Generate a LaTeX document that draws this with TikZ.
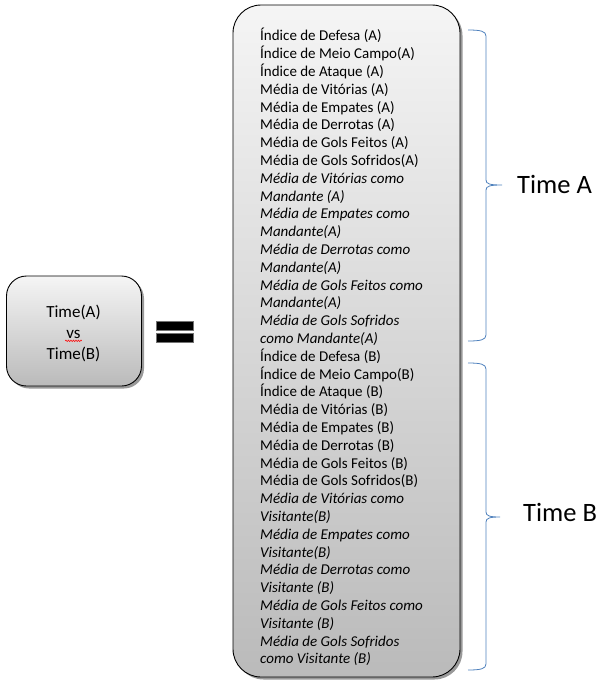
\documentclass[tikz,border=0pt]{standalone}
\usepackage{fontspec}
\setmainfont{Carlito}
\usetikzlibrary{shadows,decorations.pathmorphing}
\begin{document}
\begin{tikzpicture}[x=1pt,y=-1pt,
  panel/.style={draw=black, line width=0.9pt, rounded corners=#1,
     top color=white!96!black, bottom color=black!27,
     drop shadow={shadow xshift=2.5pt, shadow yshift=-2.5pt, opacity=0.4, fill=black}},
  item/.style={anchor=base west, inner sep=0pt, font=\fontsize{15}{17}\selectfont},
  itemit/.style={item, font=\fontsize{15}{17}\selectfont\itshape},
  brace/.style={line width=0.8pt, draw={rgb,255:red,79;green,129;blue,189}},
  lab/.style={font=\fontsize{26.5}{30}\selectfont, anchor=west, inner sep=0pt},
  vstext/.style={font=\fontsize{17}{20}\selectfont, anchor=base, inner sep=0pt},
  bar/.style={fill=black, draw=black!55, line width=0.6pt}
]
\useasboundingbox (0,0) rectangle (611,686);
% big panel
\node[panel=28, minimum width=227pt, minimum height=672pt, inner sep=0pt] (bigpanel) at (346.5,341) {};
% small panel
\node[panel=20, minimum width=135pt, minimum height=110pt, inner sep=0pt] (small) at (74,331) {};
\node[vstext] (ta) at (73.5,317.5) {Time(A)};
\node[vstext] (vs) at (73.5,338.5) {vs};
\node[vstext] (tb) at (73.5,359.5) {Time(B)};
\draw[red, line width=0.5pt, decorate, decoration={snake, amplitude=0.8pt, segment length=2.5pt}] ([xshift=-1pt,yshift=-2pt]vs.south west) -- ([xshift=1pt,yshift=-2pt]vs.south east);
% equals sign
\node[bar, minimum width=37pt, minimum height=9pt, inner sep=0pt] (eq1) at (174.5,326) {};
\node[bar, minimum width=37pt, minimum height=9pt, inner sep=0pt] (eq2) at (174.5,338) {};
% items
\def\ystart{40.8}
\def\dy{17.8}
\foreach \t [count=\i] in {
  Índice de Defesa (A),
  Índice de Meio Campo(A),
  Índice de Ataque (A),
  Média de Vitórias (A),
  Média de Empates (A),
  Média de Derrotas (A),
  Média de Gols Feitos (A),
  Média de Gols Sofridos(A)}
  {\node[item] (a\i) at (260,{\ystart+(\i-1)*\dy}) {\t};}
\foreach \t [count=\i from 9] in {
  Média de Vitórias como,
  Mandante (A),
  Média de Empates como,
  Mandante(A),
  Média de Derrotas como,
  Mandante(A),
  Média de Gols Feitos como,
  Mandante(A),
  Média de Gols Sofridos,
  como Mandante(A)}
  {\node[itemit] (a\i) at (260,{\ystart+(\i-1)*\dy}) {\t};}
\foreach \t [count=\i from 19] in {
  Índice de Defesa (B),
  Índice de Meio Campo(B),
  Índice de Ataque (B),
  Média de Vitórias (B),
  Média de Empates (B),
  Média de Derrotas (B),
  Média de Gols Feitos (B),
  Média de Gols Sofridos(B)}
  {\node[item] (b\i) at (260,{\ystart+(\i-1)*\dy}) {\t};}
\foreach \t [count=\i from 27] in {
  Média de Vitórias como,
  Visitante(B),
  Média de Empates como,
  Visitante(B),
  Média de Derrotas como,
  Visitante (B),
  Média de Gols Feitos como,
  Visitante (B),
  Média de Gols Sofridos,
  como Visitante (B)}
  {\node[itemit] (b\i) at (260,{\ystart+(\i-1)*\dy}) {\t};}
% braces
\draw[brace] (468,30) .. controls (480,30) and (486,31) .. (486,36) -- (486,180)
  .. controls (486,184) and (490,185) .. (502,185)
  .. controls (490,185) and (486,186) .. (486,190) -- (486,335)
  .. controls (486,340) and (480,341) .. (468,341);
\draw[brace] (468,363) .. controls (480,363) and (486,364) .. (486,369) -- (486,512)
  .. controls (486,516) and (490,517) .. (500,517)
  .. controls (490,517) and (486,518) .. (486,522) -- (486,664)
  .. controls (486,669) and (480,670) .. (468,670);
\node[lab] (timeA) at (517,184) {Time A};
\node[lab] (timeB) at (523,512) {Time B};
\end{tikzpicture}
\end{document}
